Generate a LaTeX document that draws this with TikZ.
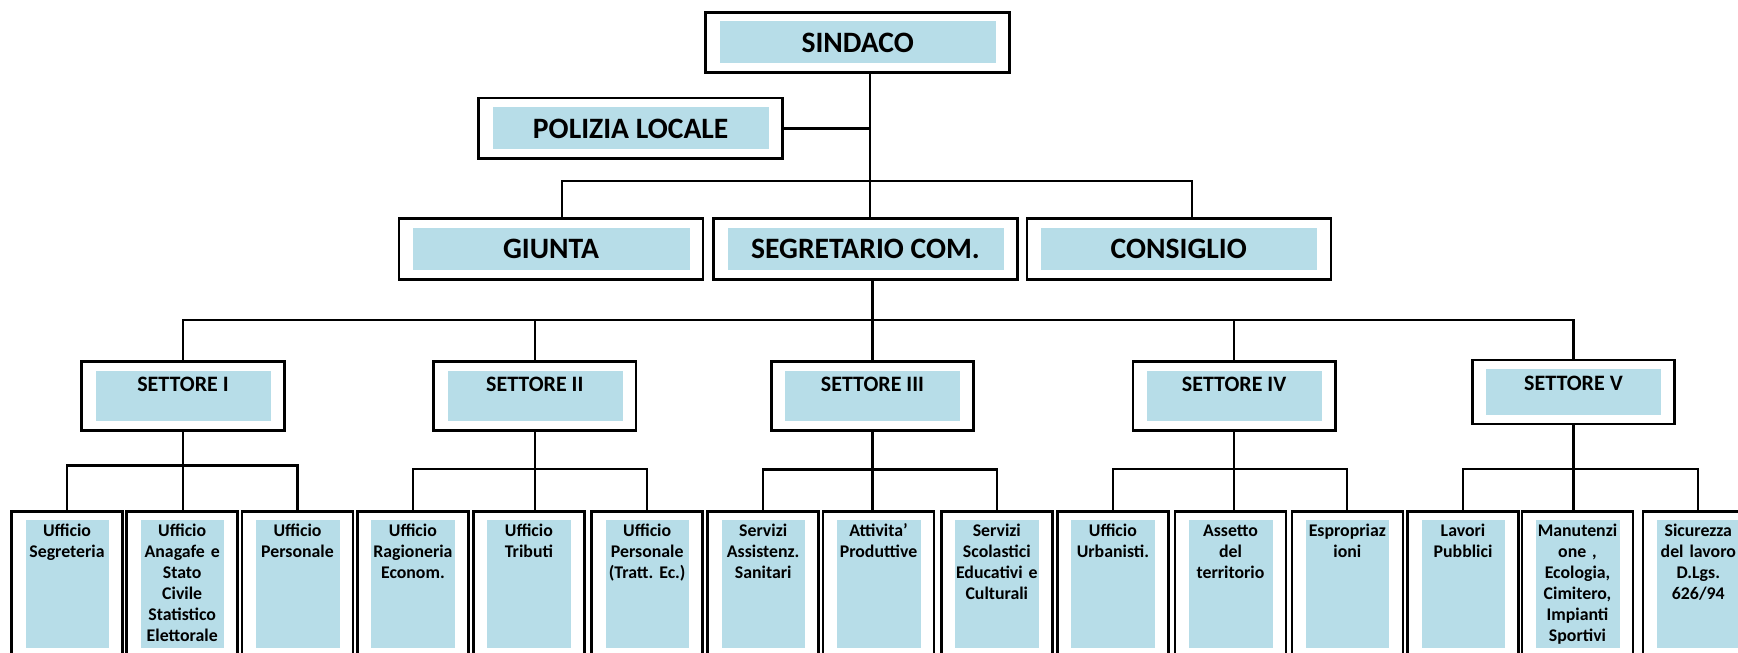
\documentclass[tikz,border=0pt]{standalone}
\usepackage{fontspec}
\setmainfont{Carlito}
\frenchspacing
\definecolor{boxblue}{RGB}{183,221,232}
\tikzset{
  box/.style={draw, line width=2.6pt, fill=white, inner sep=0pt,
    path picture={\fill[boxblue] ([xshift=14pt,yshift=-9pt]path picture bounding box.north west)
      rectangle ([xshift=-13.5pt,yshift=#1]path picture bounding box.south east);}},
  box/.default=9.5pt,
  capo/.style={box, minimum width=304pt, minimum height=60.5pt, font=\fontsize{29.6}{34}\selectfont\bfseries},
  settore/.style={box, minimum width=202.5pt, minimum height=69pt, text height=15pt, text depth=24pt, font=\fontsize{22}{26}\selectfont\bfseries},
  ufficio/.style={box=33pt, minimum width=111pt, minimum height=170pt, text width=100pt, align=center, text height=12pt, text depth=132.6pt, font=\fontsize{17.8}{21}\selectfont\bfseries\frenchspacing},
  link/.style={line width=2.2pt},
}
\begin{document}
\begin{tikzpicture}[x=1pt,y=-1pt]
\useasboundingbox (0,0) rectangle (1738,653);
\clip (0,0) rectangle (1738,653);

% vertice
\node[capo] (sindaco) at (857.7,42.5) {SINDACO};
\node[capo] (polizia) at (630.7,128.4) {POLIZIA LOCALE};
\node[capo] (giunta) at (551,249) {GIUNTA};
\node[capo] (segretario) at (865.5,249) {SEGRETARIO COM.};
\node[capo] (consiglio) at (1178.8,249) {CONSIGLIO};

\coordinate (trunk) at (870,180.7);
\draw[link] (sindaco.south -| trunk) -- (segretario.north -| trunk);
\draw[link] (polizia.east) -- (polizia.east -| trunk);
\draw[link] ([xshift=11.3pt]giunta.north) |- (trunk) -| ([xshift=13.2pt]consiglio.north);

% settori
\node[settore] (s1) at (183,396.2) {SETTORE I};
\node[settore] (s2) at (534.8,396.2) {SETTORE II};
\node[settore] (s3) at (872.5,396.2) {SETTORE III};
\node[settore] (s4) at (1234.1,396.2) {SETTORE IV};
\node[settore, minimum height=64pt, text depth=19pt] (s5) at (1573.5,392) {SETTORE V};

\coordinate (bus) at (872.5,320);
\draw[link] (segretario.south -| s3) -- (s3.north);
\draw[link] (s1.north) |- (bus) -| (s5.north);
\draw[link] (s2.north) -- (s2.north |- bus);
\draw[link] (s4.north) -- (s4.north |- bus);

% uffici
\node[ufficio] (u1) at (67,596.3) {Ufficio\\Segreteria};
\node[ufficio] (u2) at (182.2,596.3) {Ufficio\\Anagafe e\\Stato\\Civile\\Statistico\\Elettorale};
\node[ufficio] (u3) at (297.5,596.3) {Ufficio\\Personale};
\node[ufficio] (u4) at (412.9,596.3) {Ufficio\\Ragioneria\\Econom.};
\node[ufficio] (u5) at (528.9,596.3) {Ufficio\\Tributi};
\node[ufficio] (u6) at (647.2,596.3) {Ufficio\\Personale\\(Tratt. Ec.)};
\node[ufficio] (u7) at (763.2,596.3) {Servizi\\Assistenz.\\Sanitari};
\node[ufficio] (u8) at (878.5,596.3) {Attivita’\\Produttive};
\node[ufficio] (u9) at (996.8,596.3) {Servizi\\Scolastici\\Educativi e\\Culturali};
\node[ufficio] (u10) at (1112.9,596.3) {Ufficio\\Urbanisti.};
\node[ufficio] (u11) at (1230.5,596.3) {Assetto\\del\\territorio};
\node[ufficio] (u12) at (1347.3,596.3) {Espropriaz\\ioni};
\node[ufficio] (u13) at (1463,596.3) {Lavori\\Pubblici};
\node[ufficio] (u14) at (1577.5,596.3) {Manutenzi\\one ,\\Ecologia,\\Cimitero,\\Impianti\\Sportivi};
\node[ufficio] (u15) at (1698.3,596.3) {Sicurezza\\del lavoro\\D.Lgs.\\626/94};

\draw[link] (u1.north) -- ++(0,-44.6) -| (u3.north);
\draw[link] (s1.south) -- (s1.south |- u2.north);
\draw[link] (u4.north) -- ++(0,-41) -| (u6.north);
\draw[link] (s2.south) -- (s2.south |- u5.north);
\draw[link] (u7.north) -- ++(0,-40.6) -| (u9.north);
\draw[link] (s3.south) -- (s3.south |- u8.north);
\draw[link] (u10.north) -- ++(0,-41) -| (u12.north);
\draw[link] (s4.south) -- (s4.south |- u11.north);
\draw[link] (u13.north) -- ++(0,-41) -| (u15.north);
\draw[link] (s5.south) -- (s5.south |- u14.north);
\end{tikzpicture}
\end{document}
